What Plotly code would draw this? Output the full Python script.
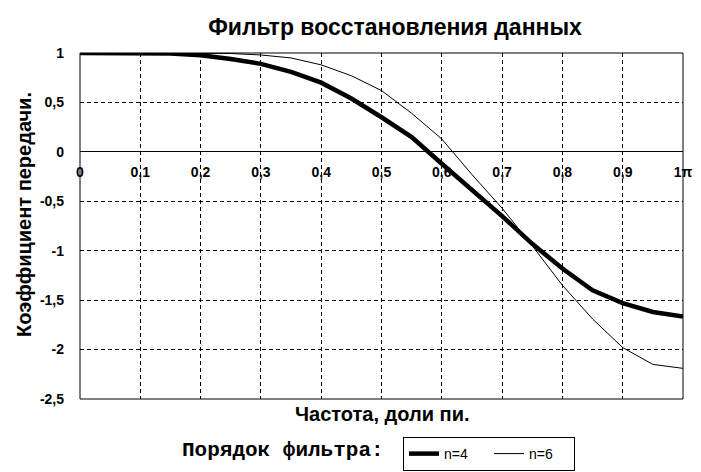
import plotly.graph_objects as go

# ---- data ----
freq = [0.0, 0.05, 0.10, 0.15, 0.20, 0.25, 0.30, 0.35, 0.40, 0.45, 0.50,
        0.55, 0.60, 0.65, 0.70, 0.75, 0.80, 0.85, 0.90, 0.95, 1.0]
gain_n4 = [1.0, 1.0, 1.0, 0.995, 0.978, 0.94, 0.89, 0.81, 0.70, 0.54, 0.35,
           0.15, -0.12, -0.38, -0.65, -0.93, -1.18, -1.40, -1.53, -1.62, -1.665]
gain_n6 = [1.0, 1.0, 1.0, 1.0, 1.0, 0.995, 0.98, 0.95, 0.88, 0.77, 0.62,
           0.39, 0.13, -0.23, -0.57, -0.95, -1.35, -1.69, -1.98, -2.15, -2.19]

x_tick_vals = [0, 0.1, 0.2, 0.3, 0.4, 0.5, 0.6, 0.7, 0.8, 0.9, 1.0]
x_tick_text = ["0", "0,1", "0,2", "0,3", "0,4", "0,5", "0,6", "0,7", "0,8", "0,9", "1π"]
y_tick_vals = [1, 0.5, 0, -0.5, -1, -1.5, -2, -2.5]
y_tick_text = ["1", "0,5", "0", "-0,5", "-1", "-1,5", "-2", "-2,5"]

x_range = [0, 1]
y_range = [-2.5, 1]

title_text = "Фильтр восстановления данных"
x_title = "Частота, доли пи."
y_title = "Коэффициент передачи."
legend_title = "Порядок фильтра:"
series_names = ["n=4", "n=6"]

SANS = "Liberation Sans, Arial, sans-serif"
MONO = "Liberation Mono, Courier New, monospace"

W, H = 701, 472

fig = go.Figure()
fig.add_trace(go.Scatter(x=freq, y=gain_n4, mode="lines", name=series_names[0],
                         line=dict(color="black", width=4.5)))
fig.add_trace(go.Scatter(x=freq, y=gain_n6, mode="lines", name=series_names[1],
                         line=dict(color="black", width=1)))

zero_pos = (0 - y_range[0]) / (y_range[1] - y_range[0])

fig.update_layout(
    width=W, height=H,
    margin=dict(l=80, r=18, t=53, b=73, autoexpand=False),
    paper_bgcolor="white", plot_bgcolor="white",
    title=dict(text=title_text, x=395 / W, xanchor="center",
               y=1 - 27 / H, yanchor="middle", xref="container", yref="container",
               automargin=False,
               font=dict(family=SANS, size=23, color="black", weight="bold")),
    xaxis=dict(range=x_range, tickvals=x_tick_vals, ticktext=x_tick_text,
               anchor="free", position=zero_pos, showline=False, zeroline=False,
               showgrid=True, gridcolor="black", gridwidth=1, griddash="4px,3px",
               ticks="", ticklabelstandoff=10, automargin=False,
               tickfont=dict(family=SANS, size=14, color="black", weight="bold")),
    yaxis=dict(range=y_range, tickvals=y_tick_vals, ticktext=y_tick_text,
               showline=False, zeroline=True, zerolinecolor="black", zerolinewidth=1,
               showgrid=True, gridcolor="black", gridwidth=1, griddash="4px,3px",
               ticks="", ticklabelstandoff=15, automargin=False,
               tickfont=dict(family=SANS, size=14, color="black", weight="bold")),
    showlegend=True,
    legend=dict(orientation="h", xref="container", yref="container",
                x=403 / W, xanchor="left", y=1 - 437 / H, yanchor="top",
                bordercolor="black", borderwidth=1, bgcolor="white",
                font=dict(family=SANS, size=14, color="black"),
                entrywidth=40, tracegroupgap=0, itemwidth=30),
    shapes=[dict(type="rect", xref="paper", yref="paper", x0=0, y0=0, x1=1, y1=1,
                 line=dict(color="black", width=1), layer="above")],
    annotations=[
        dict(text=x_title, xref="paper", yref="paper", x=0.5, y=(399 - 414) / 346,
             xanchor="center", yanchor="middle", showarrow=False,
             font=dict(family=SANS, size=20, color="black", weight="bold")),
        dict(text=y_title, xref="paper", yref="paper", x=(24 - 80) / 603,
             y=(399 - 215) / 346, xanchor="center", yanchor="middle", textangle=-90,
             showarrow=False,
             font=dict(family=SANS, size=20, color="black", weight="bold")),
        dict(text=legend_title, xref="paper", yref="paper", x=(386 - 80) / 603,
             y=(399 - 450) / 346, xanchor="right", yanchor="middle", showarrow=False,
             font=dict(family=MONO, size=21, color="black", weight="bold")),
    ],
)

fig.write_html("out.html", config={"displayModeBar": False},
               post_script="document.body.style.margin='0';document.body.style.padding='0';")
